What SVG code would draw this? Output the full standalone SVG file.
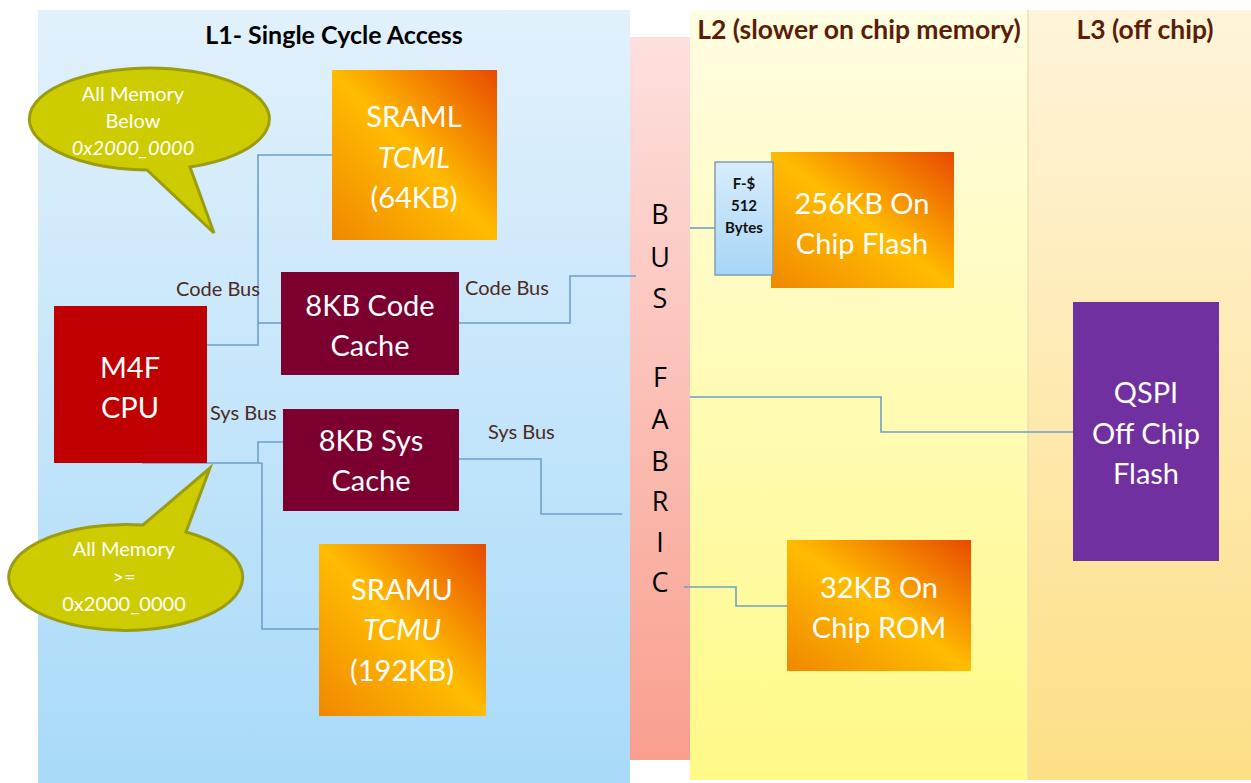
<svg xmlns="http://www.w3.org/2000/svg" width="1251" height="783" viewBox="0 0 1251 783">
<defs>
<linearGradient id="gL1" x1="0" y1="0" x2="0" y2="1"><stop offset="0" stop-color="#E2F1FC"/><stop offset="1" stop-color="#A8DAF9"/></linearGradient>
<linearGradient id="gBus" x1="0" y1="0" x2="0" y2="1"><stop offset="0" stop-color="#FDE0DE"/><stop offset="1" stop-color="#F99F8E"/></linearGradient>
<linearGradient id="gL2" x1="0" y1="0" x2="0" y2="1"><stop offset="0" stop-color="#FFFDE2"/><stop offset="1" stop-color="#FFF987"/></linearGradient>
<linearGradient id="gL3" x1="0" y1="0" x2="0" y2="1"><stop offset="0" stop-color="#FFF4DA"/><stop offset="1" stop-color="#FDDF86"/></linearGradient>
<linearGradient id="gOr" x1="1" y1="0" x2="0" y2="1"><stop offset="0" stop-color="#E84A00"/><stop offset="0.5" stop-color="#FFBC00"/><stop offset="1" stop-color="#F08800"/></linearGradient>
<linearGradient id="gFs" x1="0" y1="0" x2="0" y2="1"><stop offset="0" stop-color="#D8ECFB"/><stop offset="1" stop-color="#A6D6F7"/></linearGradient>
<style>
.w{fill:#FFFFFF;font-family:Lato,"Open Sans",sans-serif;font-size:29px;text-anchor:middle}
.c{fill:#FFFFFF;font-family:Lato,"Open Sans",sans-serif;font-size:20px;text-anchor:middle}
.t{fill:#000000;font-family:Lato,"Open Sans",sans-serif;font-weight:bold;font-size:25px;text-anchor:middle}
.h{fill:#5A1E06;font-family:Lato,"Open Sans",sans-serif;font-weight:bold;font-size:26.5px;text-anchor:middle}
.b{fill:#000000;font-family:"Open Sans",Lato,sans-serif;font-size:27px;text-anchor:middle}
.l{fill:#4A2A22;font-family:Lato,"Open Sans",sans-serif;font-size:20px}
.cn{fill:none;stroke:#6F9FCB;stroke-width:1.6}
.bub{fill:#CCCC00;stroke:#9C9C10;stroke-width:3}
.f{fill:#111111;font-family:Lato,"Open Sans",sans-serif;font-weight:bold;font-size:15px;text-anchor:middle}
</style>
</defs>
<rect width="1251" height="783" fill="#FFFFFF"/>
<g id="panels">
<rect x="38" y="10" width="592" height="773" fill="url(#gL1)"/>
<rect x="690" y="10" width="338" height="770" fill="url(#gL2)"/>
<rect x="1028" y="10" width="223" height="770" fill="url(#gL3)"/>
<line x1="1028" y1="10" x2="1028" y2="780" stroke="#E8E2B0" stroke-width="1.5"/>
<text class="t" x="334" y="44">L1- Single Cycle Access</text>
<text class="h" x="859" y="39">L2 (slower on chip memory)</text>
<text class="h" x="1145" y="39">L3 (off chip)</text>
</g>
<g id="bus-fabric">
<rect x="630" y="37" width="60" height="723" fill="url(#gBus)"/>
<text class="b" x="660" y="224">B</text>
<text class="b" x="660" y="267">U</text>
<text class="b" x="660" y="308">S</text>
<text class="b" x="660" y="387">F</text>
<text class="b" x="660" y="429">A</text>
<text class="b" x="660" y="471">B</text>
<text class="b" x="660" y="511">R</text>
<text class="b" x="660" y="552">I</text>
<text class="b" x="660" y="592">C</text>
</g>
<g id="connectors">
<polyline class="cn" points="207,345 258,345 258,155 332,155"/>
<polyline class="cn" points="258,323 281,323"/>
<polyline class="cn" points="459,323 570,323 570,276 636,276"/>
<polyline class="cn" points="690,228 715,228"/>
<polyline class="cn" points="142,463 262,463"/>
<polyline class="cn" points="258,463 258,442 294,442"/>
<polyline class="cn" points="262,463 262,629 320,629"/>
<polyline class="cn" points="459,459 541,459 541,514 622,514"/>
<polyline class="cn" points="690,397 881,397 881,432 1073,432"/>
<polyline class="cn" points="684,587 736,587 736,606 787,606"/>
<text class="l" x="176" y="296">Code Bus</text>
<text class="l" x="465" y="295">Code Bus</text>
<text class="l" x="210" y="420">Sys Bus</text>
<text class="l" x="488" y="439">Sys Bus</text>
</g>
<g id="callout-below">
<path class="bub" d="M147,170 A120,51 0 1 1 190,167 L214,233 Z"/>
<text class="c" x="133" y="101">All Memory</text>
<text class="c" x="133" y="128">Below</text>
<text class="c" x="133" y="155" font-style="italic">0x2000_0000</text>
</g>
<g id="callout-above">
<path class="bub" d="M186,532 A117,53 0 1 1 143,525 L210,468 Z"/>
<text class="c" x="124" y="556">All Memory</text>
<text class="c" x="124" y="584">&gt;=</text>
<text class="c" x="124" y="611">0x2000_0000</text>
</g>
<g id="sraml">
<rect x="332" y="70" width="165" height="170" fill="url(#gOr)"/>
<text class="w" x="414" y="127">SRAML</text>
<text class="w" x="414" y="168" font-style="italic">TCML</text>
<text class="w" x="414" y="208">(64KB)</text>
</g>
<g id="code-cache">
<rect x="281" y="272" width="178" height="103" fill="#7B0030"/>
<text class="w" x="370" y="316">8KB Code</text>
<text class="w" x="370" y="356">Cache</text>
</g>
<g id="cpu">
<rect x="54" y="306" width="153" height="157" fill="#C00000"/>
<text class="w" x="130" y="378">M4F</text>
<text class="w" x="130" y="418">CPU</text>
</g>
<g id="sys-cache">
<rect x="283" y="409" width="176" height="102" fill="#7B0030"/>
<text class="w" x="371" y="451">8KB Sys</text>
<text class="w" x="371" y="491">Cache</text>
</g>
<g id="sramu">
<rect x="319" y="544" width="167" height="172" fill="url(#gOr)"/>
<text class="w" x="402" y="600">SRAMU</text>
<text class="w" x="402" y="640" font-style="italic">TCMU</text>
<text class="w" x="402" y="681">(192KB)</text>
</g>
<g id="flash">
<rect x="771" y="152" width="183" height="136" fill="url(#gOr)"/>
<text class="w" x="862" y="214">256KB On</text>
<text class="w" x="862" y="254">Chip Flash</text>
</g>
<g id="fcache">
<rect x="715" y="162" width="58" height="113" fill="url(#gFs)" stroke="#7F9DB8" stroke-width="1.5"/>
<text class="f" x="744" y="189">F-$</text>
<text class="f" x="744" y="211">512</text>
<text class="f" x="744" y="233">Bytes</text>
</g>
<g id="qspi">
<rect x="1073" y="302" width="146" height="259" fill="#7030A0"/>
<text class="w" x="1146" y="403">QSPI</text>
<text class="w" x="1146" y="444">Off Chip</text>
<text class="w" x="1146" y="484">Flash</text>
</g>
<g id="rom">
<rect x="787" y="540" width="184" height="131" fill="url(#gOr)"/>
<text class="w" x="879" y="598">32KB On</text>
<text class="w" x="879" y="638">Chip ROM</text>
</g>
</svg>
